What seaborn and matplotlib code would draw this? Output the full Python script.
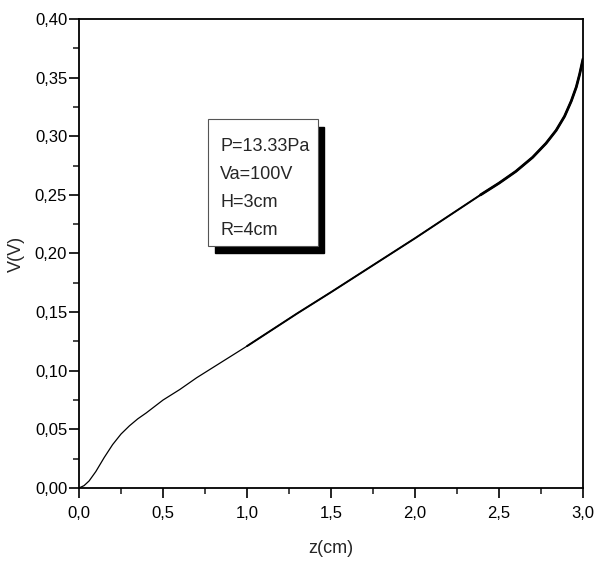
import matplotlib
matplotlib.use("Agg")
import numpy as np
import pandas as pd
import matplotlib.pyplot as plt
import seaborn as sns
from matplotlib.patches import Rectangle
from matplotlib.ticker import MultipleLocator, FuncFormatter

# ----------------- Dados -----------------
z_cm = [0.0, 0.03, 0.06, 0.10, 0.15, 0.20, 0.25, 0.30, 0.35, 0.40, 0.50, 0.60,
        0.70, 0.80, 1.00, 1.30, 1.50, 2.00, 2.39, 2.50, 2.60, 2.70, 2.78,
        2.84, 2.89, 2.93, 2.96, 2.98, 3.00]
v_volt = [0.0, 0.002, 0.006, 0.014, 0.026, 0.037, 0.046, 0.053, 0.059, 0.064, 0.075, 0.084,
          0.094, 0.103, 0.121, 0.149, 0.167, 0.213, 0.250, 0.260, 0.270, 0.282, 0.294,
          0.305, 0.317, 0.330, 0.342, 0.353, 0.366]
info_lines = ["P=13.33Pa", "Va=100V", "H=3cm", "R=4cm"]

df = pd.DataFrame({"z": z_cm, "V": v_volt})

# ----------------- Estilo -----------------
sns.set_style("ticks")
plt.rcParams["font.family"] = ["Liberation Sans", "DejaVu Sans"]

fig = plt.figure(figsize=(6, 5.64), dpi=100)
ax = fig.add_axes([0.1317, 0.1348, 0.84, 0.8315])

# curva (a parte de cima oscila, fica mais "grossa")
sns.lineplot(data=df, x="z", y="V", ax=ax, color="black", lw=0.9, estimator=None, sort=False)
sns.lineplot(data=df[df.z >= 1.0], x="z", y="V", ax=ax, color="black", lw=1.4, estimator=None, sort=False)
sns.lineplot(data=df[df.z >= 2.3], x="z", y="V", ax=ax, color="black", lw=2.0, estimator=None, sort=False)

ax.set_xlim(0, 3.0)
ax.set_ylim(0, 0.40)
ax.xaxis.set_major_locator(MultipleLocator(0.5))
ax.xaxis.set_minor_locator(MultipleLocator(0.25))
ax.yaxis.set_major_locator(MultipleLocator(0.05))
ax.yaxis.set_minor_locator(MultipleLocator(0.025))
ax.xaxis.set_major_formatter(FuncFormatter(lambda v, p: f"{v:.1f}".replace(".", ",")))
ax.yaxis.set_major_formatter(FuncFormatter(lambda v, p: f"{v:.2f}".replace(".", ",")))

for s in ax.spines.values():
    s.set_visible(True)
    s.set_linewidth(1.3)
    s.set_color("black")
ax.tick_params(which="major", direction="out", length=7, width=1.2, labelsize=12,
               colors="black", pad=1.5)
ax.tick_params(axis="x", which="major", pad=6)
ax.tick_params(which="minor", direction="out", length=4, width=1.2)
ax.tick_params(top=False, right=False, which="both")

ax.set_xlabel("z(cm)", fontsize=13)
ax.set_ylabel("V(V)", fontsize=13)
ax.xaxis.set_label_coords(0.5, -0.128)
ax.yaxis.set_label_coords(-0.125, 0.5)
ax.xaxis.label.set_va("center")
ax.yaxis.label.set_va("center")

# ----------------- Caixa de informações com sombra -----------------
bx, by, bw, bh = 0.256, 0.516, 0.218, 0.27
ax.add_patch(Rectangle((bx + 0.013, by - 0.016), bw, bh, transform=ax.transAxes,
                       facecolor="black", edgecolor="black", zorder=5))
ax.add_patch(Rectangle((bx, by), bw, bh, transform=ax.transAxes,
                       facecolor="white", edgecolor="#555555", lw=0.8, zorder=6))
for i, t in enumerate(info_lines):
    ax.text(bx + 0.024, by + bh - 0.057 - i * 0.06, t, transform=ax.transAxes,
            fontsize=13, va="center", ha="left", zorder=7)

fig.savefig("out.png", dpi=100)
